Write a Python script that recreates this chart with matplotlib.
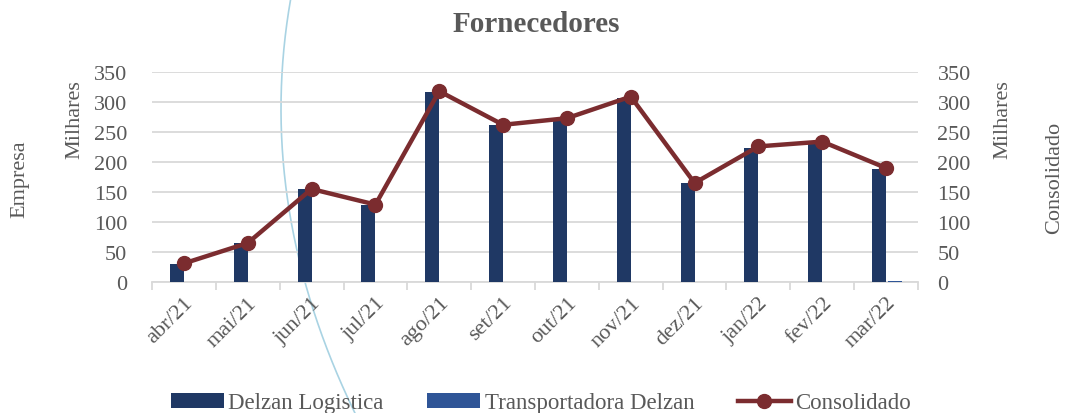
import matplotlib
matplotlib.use("Agg")
import matplotlib.pyplot as plt
import numpy as np
from matplotlib.lines import Line2D

categories = ["abr/21", "mai/21", "jun/21", "jul/21", "ago/21", "set/21",
              "out/21", "nov/21", "dez/21", "jan/22", "fev/22", "mar/22"]
delzan_logistica = [30, 65, 155, 129, 316, 262, 269, 306, 165, 224, 232, 188]
transportadora_delzan = [0, 0, 0, 0, 0, 0, 0, 0, 0, 0, 0, 1.5]
consolidado = [31, 65, 155, 129, 318, 262, 273, 309, 165, 226, 234, 190]

plt.rcParams['font.family'] = ['Liberation Serif', 'DejaVu Serif']
GRAY = "#595959"
FS = 16
W, H = 1068, 414
fig = plt.figure(figsize=(W / 100, H / 100), dpi=100)
ax = fig.add_axes([152 / W, 1 - 283 / H, (918 - 152) / W, (283 - 73) / H])
ax.patch.set_alpha(0)

x = np.arange(len(categories))
bw = 0.22
b1 = ax.bar(x - 0.11, delzan_logistica, bw, color="#1f3864", zorder=3,
            label="Delzan Logistica")
b2 = ax.bar(x + 0.14, transportadora_delzan, bw, color="#2f5597", zorder=3,
            label="Transportadora Delzan")
ax.set_xlim(-0.5, len(categories) - 0.5)
ax.set_ylim(0, 350)
ax.set_yticks(range(0, 351, 50))
ax.grid(axis="y", color="#d9d9d9", lw=1.3, zorder=0)
ax.set_axisbelow(True)
for s in ["left", "right", "top"]:
    ax.spines[s].set_visible(False)
ax.spines["bottom"].set_color("#d9d9d9")
ax.spines["bottom"].set_linewidth(1.3)
ax.set_xticks(np.arange(-0.5, len(categories), 1), minor=False)
ax.set_xticklabels([])
ax.tick_params(axis="x", which="major", length=6, color="#d9d9d9", width=1.3)
ax.set_xticks(x, minor=True)
ax.set_xticklabels(categories, minor=True, rotation=45, ha="right",
                   rotation_mode="anchor", fontsize=FS, color=GRAY)
ax.tick_params(axis="x", which="minor", length=0, pad=8)
ax.tick_params(axis="y", length=0, labelsize=FS, labelcolor=GRAY, pad=18)

ax2 = ax.twinx()
ax2.patch.set_alpha(0)
ln, = ax2.plot(x, consolidado, color="#7b2c2f", lw=3.2, marker="o",
               markersize=10, zorder=4, label="Consolidado")
ax2.set_ylim(0, 350)
ax2.set_yticks(range(0, 351, 50))
for s in ["left", "right", "top", "bottom"]:
    ax2.spines[s].set_visible(False)
ax2.tick_params(axis="y", length=0, labelsize=FS, labelcolor=GRAY, pad=14)

fig.text(536 / W, 1 - 25 / H, "Fornecedores", ha="center", va="center",
         fontsize=21, fontweight="bold", color=GRAY)
fig.text(20 / W, 1 - 179 / H, "Empresa", rotation=90, ha="center",
         va="center", fontsize=FS, color=GRAY)
fig.text(75 / W, 1 - 120 / H, "Milhares", rotation=90, ha="center",
         va="center", fontsize=FS, color=GRAY)
fig.text(1003 / W, 1 - 120 / H, "Milhares", rotation=90, ha="center",
         va="center", fontsize=FS, color=GRAY)
fig.text(1055 / W, 1 - 178 / H, "Consolidado", rotation=90, ha="center",
         va="center", fontsize=FS, color=GRAY)

leg = fig.legend(handles=[b1, b2, ln], loc="center",
                 bbox_to_anchor=(541 / W, 1 - 404 / H), ncol=3, frameon=False,
                 fontsize=16.5, handlelength=2.3, handleheight=0.6,
                 columnspacing=1.9, handletextpad=0.2, labelcolor=GRAY)

# decorative light-blue arc in the background
ys = np.linspace(0, H, 200)
xs = 281 + 8e-4 * (ys - 110) ** 2
fig.add_artist(Line2D(xs / W, 1 - ys / H, transform=fig.transFigure,
                      color="#a9d3e3", lw=1.2, zorder=-1))

fig.savefig("out.png", dpi=100)
